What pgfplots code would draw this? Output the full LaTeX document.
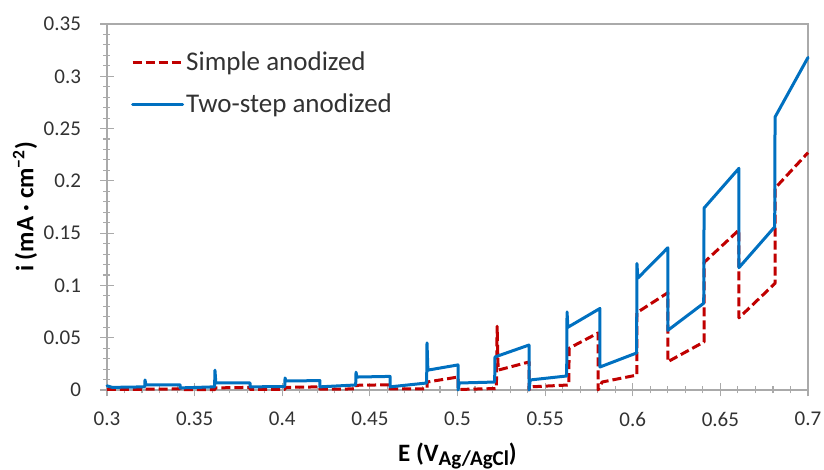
\documentclass[border=0pt]{standalone}
\usepackage{fontspec}
\setmainfont{Carlito}
\usepackage{pgfplots}
\pgfplotsset{compat=1.18}
\definecolor{simplered}{RGB}{192,0,0}
\definecolor{twoblue}{RGB}{0,112,192}
\definecolor{axgray}{RGB}{170,170,170}
\definecolor{lblgray}{RGB}{50,50,50}

\begin{document}
\begin{tikzpicture}
\begin{axis}[
  name=ax,
  scale only axis,
  width=701pt, height=366pt,
  xmin=0.3, xmax=0.7, ymin=0, ymax=0.35,
  xtick={0.3,0.35,0.4,0.45,0.5,0.55,0.6,0.65,0.7},
  ytick={0,0.05,0.1,0.15,0.2,0.25,0.3,0.35},
  minor x tick num=4, minor y tick num=4,
  tick pos=left,
  tick align=center,
  major tick length=13pt, minor tick length=7pt,
  axis line style={axgray, line width=1.1pt},
  tick style={axgray, line width=1.1pt},
  scaled ticks=false,
  /pgf/number format/assume math mode=true,
  /pgf/number format/fixed,
  /pgf/number format/precision=2,
  tick label style={font=\fontsize{21}{25}\selectfont, text=lblgray},
  xticklabel shift=12pt,
  yticklabel shift=16pt,
  clip=false,
  every axis x label/.style={at={(rel axis cs:0.5,0)}, yshift=-72pt, anchor=base},
  every axis y label/.style={at={(rel axis cs:0,0.5)}, xshift=-82pt, rotate=90, anchor=center},
  xlabel={\fontsize{25}{30}\selectfont\bfseries E (V\raisebox{-4pt}{\fontsize{21}{25}\selectfont Ag/AgCl})},
  ylabel={\fontsize{25}{30}\selectfont\bfseries i (mA · cm\textsuperscript{−2})},
  legend cell align=left,
  legend image code/.code={\draw[#1] (0pt,0pt) -- (50pt,0pt);},
  legend style={draw=none, fill=none, at={(rel axis cs:0.03,0.935)}, anchor=north west,
    font=\fontsize{27}{32}\selectfont, text=lblgray, row sep=18pt},
]
\addplot[simplered, line width=3pt, line join=round, dash pattern=on 9pt off 4pt] coordinates {
(0.300,0.0005) (0.3217,0.0005)
(0.3217,0.0008) (0.3417,0.0010)
(0.3417,0.0003) (0.3616,0.0004)
(0.3616,0.0020) (0.3816,0.0025)
(0.3816,0.0005) (0.4016,0.0006)
(0.4016,0.0025) (0.4215,0.0030)
(0.4215,0.0008) (0.4421,0.0010)
(0.4421,0.0045) (0.4615,0.0050)
(0.4615,0.0010) (0.4826,0.0012)
(0.4826,0.0076) (0.5003,0.0124)
(0.5003,0.0005) (0.5222,0.0014)
(0.5226,0.0610) (0.5232,0.0190) (0.5408,0.0268)
(0.5408,0.0000) (0.5415,0.0030) (0.5635,0.0048)
(0.5637,0.0400) (0.5802,0.0545)
(0.5802,0.0000) (0.5825,0.0076) (0.6024,0.0143)
(0.6024,0.0740) (0.6200,0.0930)
(0.6200,0.0270) (0.6407,0.0460)
(0.6407,0.1220) (0.6606,0.1530)
(0.6606,0.0690) (0.6812,0.1020)
(0.6812,0.1930) (0.7000,0.2270)
};
\addlegendentry{Simple anodized}
\addplot[twoblue, line width=3pt, line join=round, line cap=round] coordinates {
(0.300,0.0040) (0.303,0.0025) (0.3215,0.0030)
(0.3217,0.0096) (0.3222,0.0050) (0.3417,0.0050)
(0.3417,0.0020) (0.3614,0.0030)
(0.3616,0.0190) (0.3621,0.0067) (0.3816,0.0067)
(0.3816,0.0030) (0.4014,0.0033)
(0.4016,0.0115) (0.4021,0.0086) (0.4215,0.0090)
(0.4215,0.0030) (0.4419,0.0048)
(0.4421,0.0170) (0.4426,0.0124) (0.4615,0.0130)
(0.4615,0.0030) (0.4824,0.0067)
(0.4826,0.0450) (0.4831,0.0190) (0.5003,0.0240)
(0.5003,0.0000) (0.5010,0.0067) (0.5212,0.0076)
(0.5214,0.0316) (0.5408,0.0430)
(0.5408,0.0000) (0.5415,0.0096) (0.5623,0.0134)
(0.5625,0.0746) (0.5630,0.0600) (0.5813,0.0780)
(0.5813,0.0220) (0.6022,0.0354)
(0.6024,0.1210) (0.6029,0.1070) (0.6200,0.1360)
(0.6200,0.0570) (0.6405,0.0830)
(0.6407,0.1740) (0.6606,0.2120)
(0.6606,0.1170) (0.6810,0.1560)
(0.6812,0.2610) (0.7000,0.3180)
};
\addlegendentry{Two-step anodized}
\end{axis}
\pgfresetboundingbox
\path[use as bounding box] ([xshift=-107pt,yshift=-80pt]ax.south west) rectangle ++(824pt,470pt);
\end{tikzpicture}
\end{document}
